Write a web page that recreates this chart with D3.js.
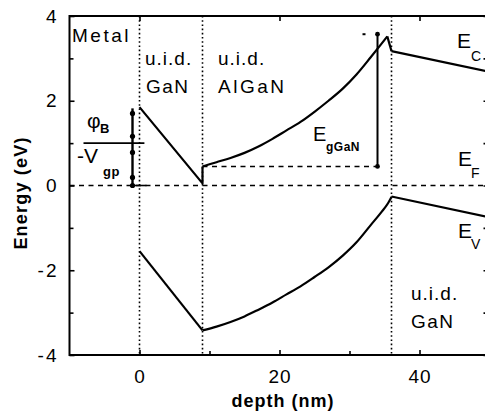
<!DOCTYPE html>
<html>
<head>
<meta charset="utf-8">
<script src="https://cdn.jsdelivr.net/npm/d3@7"></script>
<style>
  body { margin: 0; background: #fff; }
  svg { display: block; font-family: "Liberation Sans", Arial, sans-serif; }
  .lbl { font-size: 19px; fill: #000; }
  .tick text { font-size: 19px; fill: #000; }
</style>
</head>
<body>
<div id="chart"></div>
<script>
// band edges (depth in nm, energy in eV)
var capDepth   = [0, 9];
var capEc      = [1.85, 0.05];
var capEv      = [-1.55, -3.42];

var barDepth   = [9, 11, 13, 15, 17, 19, 21, 23, 25, 27, 29, 31, 33, 34.5, 35.4];
var barEc      = [0.45, 0.55, 0.65, 0.77, 0.92, 1.1, 1.3, 1.5, 1.74, 2.0, 2.28, 2.62, 3.02, 3.33, 3.52];
var barEvDepth = [9, 11, 13, 15, 17, 19, 21, 23, 25, 27, 29, 31, 33, 34.5, 35.5, 36];
var barEv      = [-3.42, -3.33, -3.22, -3.09, -2.93, -2.76, -2.57, -2.38, -2.16, -1.93, -1.66, -1.34, -0.94, -0.64, -0.42, -0.27];

var bufDepth   = [36, 50];
var bufEc      = [3.17, 2.68];
var bufEv      = [-0.26, -0.75];

var interfaces = [0, 9, 36];
var fermi      = 0;

var xMajor = [0, 20, 40];
var xMinor = [10, 30];
var yMajor = [4, 2, 0, -2, -4];
var yMinor = [3, 1, -1, -3];

var width = 485, height = 417;
var margin = {top: 16, left: 69.5, bottom: 62};

var x = d3.scaleLinear().domain([-10, 50]).range([margin.left, margin.left + 420]);
var y = d3.scaleLinear().domain([-4, 4]).range([height - margin.bottom, margin.top]);

var svg = d3.select("#chart").append("svg")
    .attr("width", width)
    .attr("height", height);

function zip(a, b) {
    return a.map(function(d, i){ return [d, b[i]]; });
}

var line = d3.line()
    .x(function(d){ return x(d[0]); })
    .y(function(d){ return y(d[1]); });
var smooth = d3.line()
    .x(function(d){ return x(d[0]); })
    .y(function(d){ return y(d[1]); })
    .curve(d3.curveMonotoneX);

//dotted interface lines
svg.selectAll(".iface").data(interfaces).enter().append("line")
    .attr("x1", function(d){ return x(d); })
    .attr("x2", function(d){ return x(d); })
    .attr("y1", y(4))
    .attr("y2", y(-4))
    .attr("stroke", "#000")
    .attr("stroke-width", 1.6)
    .attr("stroke-dasharray", "1.6,2.6");

//fermi level
svg.append("line")
    .attr("x1", x(-10)).attr("x2", x(50))
    .attr("y1", y(fermi)).attr("y2", y(fermi))
    .attr("stroke", "#000").attr("stroke-width", 1.6)
    .attr("stroke-dasharray", "5,4.5");

// AlGaN band offset reference
svg.append("line")
    .attr("x1", x(9)).attr("x2", x(34))
    .attr("y1", y(barEc[0])).attr("y2", y(barEc[0]))
    .attr("stroke", "#000").attr("stroke-width", 1.6)
    .attr("stroke-dasharray", "5,4.5");

var bands = svg.append("g")
    .attr("fill", "none")
    .attr("stroke", "#000")
    .attr("stroke-width", 2.2)
    .attr("stroke-linejoin", "round");

// conduction band
bands.append("path").attr("d", line(zip(capDepth, capEc).concat([[9, barEc[0]]])));
bands.append("path").attr("d", smooth(zip(barDepth, barEc)));
bands.append("path").attr("d", line([[barDepth[barDepth.length-1], barEc[barEc.length-1]], [36, bufEc[0]]]));
bands.append("path").attr("d", line(zip(bufDepth, bufEc)));

// valence band
bands.append("path").attr("d", line(zip(capDepth, capEv)));
bands.append("path").attr("d", smooth(zip(barEvDepth, barEv)));
bands.append("path").attr("d", line(zip(bufDepth, bufEv)));

// E_gGaN arrow
var egTop = 3.57, egX = 34;
svg.append("line")
    .attr("x1", x(egX)).attr("x2", x(egX))
    .attr("y1", y(barEc[0])).attr("y2", y(egTop))
    .attr("stroke", "#000").attr("stroke-width", 2);
svg.append("line")
    .attr("x1", x(egX) - 15).attr("x2", x(egX) - 12)
    .attr("y1", y(egTop)).attr("y2", y(egTop))
    .attr("stroke", "#000").attr("stroke-width", 2);
svg.selectAll(".egdot").data([barEc[0], egTop]).enter().append("circle")
    .attr("cx", x(egX)).attr("cy", function(d){ return y(d); })
    .attr("r", 2.4);

// barrier height marker
var phiX = -1;
var phiDots = [1.7, 1.16, 0.78, 0.19, 0];
svg.append("line")
    .attr("x1", x(phiX)).attr("x2", x(phiX))
    .attr("y1", y(1.82)).attr("y2", y(0))
    .attr("stroke", "#000").attr("stroke-width", 2.4);
svg.append("line")
    .attr("x1", x(-8)).attr("x2", x(0.7))
    .attr("y1", y(1)).attr("y2", y(1))
    .attr("stroke", "#000").attr("stroke-width", 1.6);
svg.append("line")
    .attr("x1", x(-1)).attr("x2", x(1))
    .attr("y1", y(0)).attr("y2", y(0))
    .attr("stroke", "#000").attr("stroke-width", 1.6);
svg.selectAll(".phidot").data(phiDots).enter().append("circle")
    .attr("cx", x(phiX)).attr("cy", function(d){ return y(d); })
    .attr("r", 2.6);

//axes
var frame = svg.append("g").attr("stroke", "#000").attr("stroke-width", 2);
frame.append("line").attr("x1", x(-10)).attr("x2", x(-10)).attr("y1", y(4) - 1).attr("y2", y(-4) + 1);
frame.append("line").attr("x1", x(-10)).attr("x2", x(50)).attr("y1", y(-4)).attr("y2", y(-4));
frame.append("line").attr("x1", x(-10)).attr("x2", x(50)).attr("y1", y(4)).attr("y2", y(4));
frame.append("line").attr("x1", x(50)).attr("x2", x(50)).attr("y1", y(4)).attr("y2", y(-4));

function styleAxis(g) {
    g.select(".domain").remove();
    g.selectAll(".tick line").attr("stroke", "#000").attr("stroke-width", 1.6);
    g.selectAll(".tick text").attr("font-family", null).attr("font-size", null);
}

svg.append("g")
    .attr("transform", "translate(" + x(-10) + ",0)")
    .call(d3.axisLeft(y).tickValues(yMajor).tickSize(-5).tickPadding(11)
        .tickFormat(function(d){ return String(d); }))
    .call(styleAxis)
    .selectAll(".tick text").attr("letter-spacing", "2px");
svg.append("g")
    .attr("transform", "translate(" + x(-10) + ",0)")
    .call(d3.axisLeft(y).tickValues(yMinor).tickSize(-4).tickFormat(""))
    .call(styleAxis);
svg.append("g")
    .attr("transform", "translate(" + x(50) + ",0)")
    .call(d3.axisRight(y).tickValues(yMajor.concat(yMinor)).tickSize(-6).tickFormat(""))
    .call(styleAxis);

svg.append("g")
    .attr("transform", "translate(0," + y(-4) + ")")
    .call(d3.axisBottom(x).tickValues(xMajor).tickSize(-5).tickPadding(15)
        .tickFormat(function(d){ return String(d); }))
    .call(styleAxis)
    .selectAll(".tick text").attr("letter-spacing", "1px");
svg.append("g")
    .attr("transform", "translate(0," + y(-4) + ")")
    .call(d3.axisBottom(x).tickValues(xMinor).tickSize(-4).tickFormat(""))
    .call(styleAxis);
svg.append("g")
    .attr("transform", "translate(0," + y(4) + ")")
    .call(d3.axisTop(x).tickValues(xMajor).tickSize(-5).tickFormat(""))
    .call(styleAxis);

// axis titles
svg.append("text")
    .attr("transform", "translate(27," + 193 + ") rotate(-90)")
    .attr("text-anchor", "middle")
    .attr("font-weight", "bold")
    .attr("font-size", 18)
    .attr("letter-spacing", "1.2px")
    .text("Energy (eV)");
svg.append("text")
    .attr("x", 283).attr("y", 407)
    .attr("text-anchor", "middle")
    .attr("font-weight", "bold")
    .attr("font-size", 18)
    .attr("letter-spacing", "1px")
    .text("depth (nm)");

// region labels
function label(txt, px, py, ls) {
    svg.append("text").attr("class", "lbl")
        .attr("x", px).attr("y", py)
        .attr("letter-spacing", ls + "px")
        .text(txt);
}
label("Metal", 72, 42, 2.5);
label("u.i.d.", 145, 65, 1);
label("GaN", 146, 93, 1.5);
label("u.i.d.", 218, 65, 1);
label("AlGaN", 218, 93, 2.5);
label("u.i.d.", 411, 300, 1);
label("GaN", 411, 328, 1.5);

// symbol with subscript
function sym(main, sub, px, py, size, subSize, subBold, dx, dy) {
    var t = svg.append("text").attr("x", px).attr("y", py).attr("font-size", size);
    t.append("tspan").text(main);
    t.append("tspan")
        .attr("x", px + dx).attr("y", py + dy)
        .attr("font-size", subSize)
        .attr("font-weight", subBold ? "bold" : null)
        .attr("letter-spacing", subBold ? "0.5px" : null)
        .text(sub);
}
sym("E", "C", 457, 48, 21, 14, false, 14, 13);
sym("E", "F", 458, 166, 21, 14, false, 13, 12);
sym("E", "V", 458, 238, 21, 14, false, 13, 11);
sym("E", "gGaN", 313, 141, 20, 12, true, 13, 10);
sym("\u03c6", "B", 87, 128, 21, 13, true, 13, 5);
sym("-V", "gp", 77, 163, 21, 13, true, 26, 13);
</script>
</body>
</html>
